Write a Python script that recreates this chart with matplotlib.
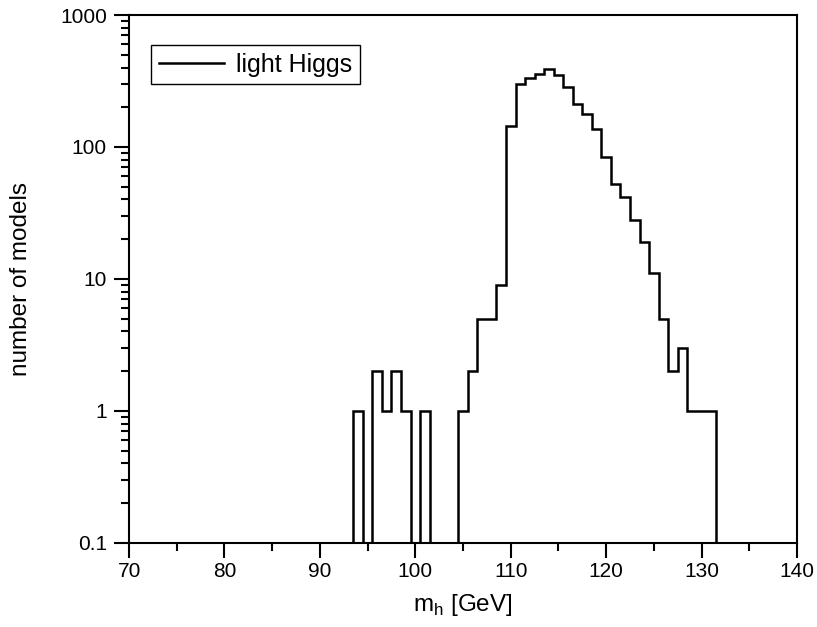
import matplotlib
matplotlib.use("Agg")
import matplotlib.pyplot as plt
import matplotlib.ticker as ticker
import numpy as np

plt.rcParams['font.family'] = ['Liberation Sans', 'DejaVu Sans']
plt.rcParams['mathtext.fontset'] = 'custom'
plt.rcParams['mathtext.rm'] = 'Liberation Sans'

# ---- Data: counts per 1 GeV bin, bin centres 93..131 ----
bin_centres = list(range(93, 132))
counts = [0, 1, 0, 2, 1, 2, 1, 0, 1, 0, 0, 0, 1, 2, 5, 5, 9,
          144, 302, 332, 359, 388, 351, 286, 211, 178, 137, 84,
          52, 42, 28, 19, 11, 5, 2, 3, 1, 1, 1]
x_ticks = [70, 80, 90, 100, 110, 120, 130, 140]
y_ticks = [0.1, 1, 10, 100, 1000]
y_tick_labels = ["0.1", "1", "10", "100", "1000"]

edges = np.append(np.array(bin_centres) - 0.5, bin_centres[-1] + 0.5)
vals = np.array(counts, dtype=float)
vals[vals <= 0] = 1e-3  # empty bins drop below the axis

fig = plt.figure(figsize=(8.17, 6.27), dpi=100)
ax = fig.add_axes([0.158, 0.1344, 0.8175, 0.8416])

ax.stairs(vals, edges, baseline=1e-3, color='black', linewidth=1.8,
          label='light Higgs')

ax.set_yscale('log')
ax.set_xlim(70, 140)
ax.set_ylim(0.1, 1000)
ax.set_xticks(x_ticks)
ax.xaxis.set_minor_locator(ticker.MultipleLocator(5))
ax.set_yticks(y_ticks)
ax.set_yticklabels(y_tick_labels)
ax.yaxis.set_minor_locator(ticker.LogLocator(base=10, subs=np.arange(2, 10)))
ax.yaxis.set_minor_formatter(ticker.NullFormatter())

ax.tick_params(which='major', direction='out', length=11, width=1.5,
               labelsize=15)
ax.tick_params(axis='x', which='major', pad=3)
ax.tick_params(axis='y', which='major', pad=5)
ax.tick_params(which='minor', direction='out', length=6, width=1.5)
for s in ax.spines.values():
    s.set_linewidth(1.5)

ax.set_xlabel(r'm$_\mathrm{h}$ [GeV]', fontsize=17.5, labelpad=8)
ax.set_ylabel('number of models', fontsize=17.5, labelpad=20)

leg = ax.legend(loc='upper left', bbox_to_anchor=(0.033, 0.943),
                borderaxespad=0, fontsize=18, fancybox=False,
                edgecolor='black', handlelength=2.6, handletextpad=0.5,
                borderpad=0.3, framealpha=1)
leg.get_frame().set_linewidth(1.0)

fig.savefig('out.png', dpi=100)
